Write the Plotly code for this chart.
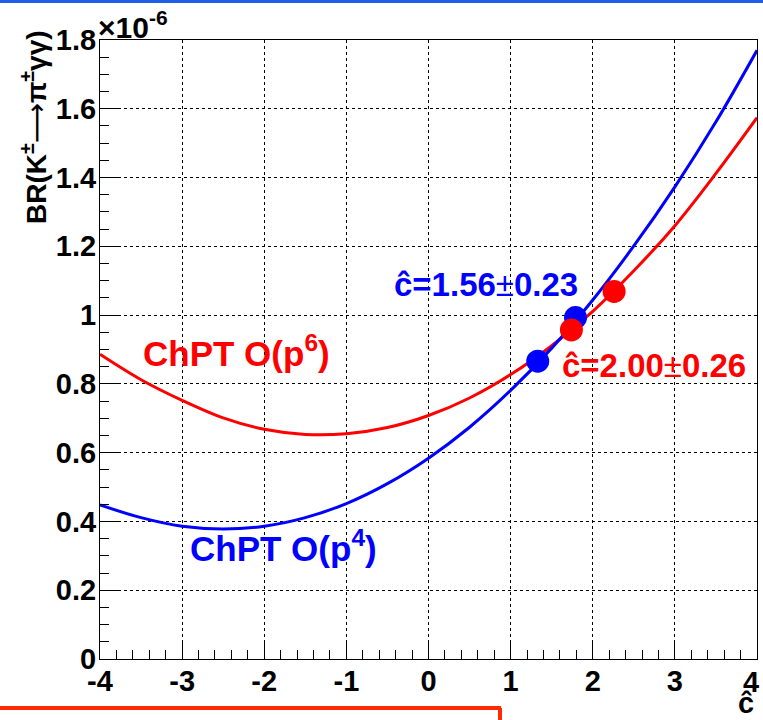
import plotly.graph_objects as go

# ---- data (BR in units of 1e-6) ----
c_hat = [-4.0, -3.5, -3.0, -2.5, -2.0, -1.5, -1.0, -0.5, 0.0, 0.5, 1.0, 1.5, 2.0, 2.5, 3.0, 3.5, 4.0]
br_p4 = [0.448, 0.411, 0.386, 0.378, 0.386, 0.411, 0.452, 0.510, 0.584, 0.674, 0.781, 0.904, 1.044, 1.201, 1.373, 1.562, 1.770]
br_p6 = [0.886, 0.812, 0.752, 0.701, 0.668, 0.653, 0.655, 0.673, 0.708, 0.759, 0.827, 0.911, 1.011, 1.129, 1.260, 1.412, 1.574]

p4_marker_c = [1.33, 1.79]
p4_marker_br = [0.866, 0.993]
p6_marker_c = [1.74, 2.26]
p6_marker_br = [0.957, 1.069]

x_ticks = [-4, -3, -2, -1, 0, 1, 2, 3, 4]
x_ticktext = ["-4", "-3", "-2", "-1", "0", "1", "2", "3", "4"]
y_ticks = [0, 0.2, 0.4, 0.6, 0.8, 1.0, 1.2, 1.4, 1.6, 1.8]
y_ticktext = ["0", "0.2", "0.4", "0.6", "0.8", "1", "1.2", "1.4", "1.6", "1.8"]

BLUE = "#0000ff"
RED = "#ff0000"
FONT = "Liberation Sans, Arial, Helvetica, sans-serif"

fig = go.Figure()
fig.add_trace(go.Scatter(x=c_hat, y=br_p6, mode="lines", line=dict(color=RED, width=3, shape="spline"),
                         showlegend=False, hoverinfo="skip"))
fig.add_trace(go.Scatter(x=c_hat, y=br_p4, mode="lines", line=dict(color=BLUE, width=3, shape="spline"),
                         showlegend=False, hoverinfo="skip"))
fig.add_trace(go.Scatter(x=p4_marker_c, y=p4_marker_br, mode="markers",
                         marker=dict(color=BLUE, size=23, line=dict(width=0)), showlegend=False))
fig.add_trace(go.Scatter(x=p6_marker_c, y=p6_marker_br, mode="markers",
                         marker=dict(color=RED, size=23, line=dict(width=0)), showlegend=False))

TICKFONT = dict(family=FONT, size=29, color="black", weight="bold")
axis_common = dict(showline=True, linecolor="black", linewidth=1, mirror=True,
                   ticks="inside", tickcolor="black", tickwidth=1, ticklen=18,
                   showgrid=True, gridcolor="black", gridwidth=1, griddash="dot",
                   zeroline=False, automargin=False, tickfont=TICKFONT)

# last x label is drawn as an annotation (pulled slightly left, as in the reference)
fig.update_xaxes(range=[-4, 4], tickvals=x_ticks, ticktext=x_ticktext[:-1] + [""],
                 ticklabelstandoff=-4,
                 minor=dict(dtick=0.2, ticklen=9, tickcolor="black", ticks="inside", showgrid=False),
                 **axis_common)
fig.update_yaxes(range=[0, 1.8], tickvals=y_ticks, ticktext=y_ticktext,
                 ticklabelstandoff=-3,
                 minor=dict(dtick=0.05, ticklen=9, tickcolor="black", ticks="inside", showgrid=False),
                 **axis_common)

L, R, T, B = 100, 6, 40, 61
W, H = 763, 720
pw, ph = W - L - R, H - T - B

def px(xp):
    return (xp - L) / pw

def py(yp):
    return (H - B - yp) / ph

ytitle = ('<b>BR(K<sup>±</sup></b>'
          '<span style="font-family:DejaVu Sans">⟶</span>'
          '<b>π<sup>±</sup>γγ)</b>')

annotations = [
    dict(text=ytitle, textangle=-90,
         x=px(35), y=py(28), xref="paper", yref="paper", xanchor="center", yanchor="top",
         showarrow=False, font=dict(family=FONT, size=28, color="black")),
    dict(text="<b>×10<sup>-6</sup></b>", x=px(96), y=py(46), xref="paper", yref="paper",
         xanchor="left", yanchor="bottom", showarrow=False,
         font=dict(family=FONT, size=30, color="black")),
    dict(text=x_ticktext[-1], x=px(751), y=py(682), xref="paper", yref="paper",
         xanchor="center", yanchor="middle", showarrow=False, font=TICKFONT),
    dict(text="<b>ĉ</b>", x=px(746), y=py(703), xref="paper", yref="paper",
         xanchor="center", yanchor="middle", showarrow=False,
         font=dict(family=FONT, size=29, color="black")),
    dict(text="<b>ChPT O(p<sup>6</sup>)</b>", x=-3.50, y=0.895, xref="x", yref="y",
         xanchor="left", yanchor="middle", showarrow=False,
         font=dict(family=FONT, size=35, color=RED)),
    dict(text="<b>ChPT O(p<sup>4</sup>)</b>", x=-2.93, y=0.330, xref="x", yref="y",
         xanchor="left", yanchor="middle", showarrow=False,
         font=dict(family=FONT, size=35, color=BLUE)),
    dict(text="<b>ĉ=1.56</b>±<b>0.23</b>", x=-0.444, y=1.090, xref="x", yref="y",
         xanchor="left", yanchor="middle", showarrow=False,
         font=dict(family=FONT, size=33, color=BLUE)),
    dict(text="<b>ĉ=2.00</b>±<b>0.26</b>", x=1.60, y=0.853, xref="x", yref="y",
         xanchor="left", yanchor="middle", showarrow=False,
         font=dict(family=FONT, size=33, color=RED)),
]

shapes = [
    # blue band at top edge of the picture
    dict(type="rect", xref="paper", yref="paper", x0=px(0), x1=px(W), y0=py(3), y1=py(0),
         fillcolor="#1f5fe8", line=dict(width=0), layer="above"),
    # red frame fragment at the bottom
    dict(type="line", xref="paper", yref="paper", x0=px(0), x1=px(501), y0=py(708), y1=py(708),
         line=dict(color="#ff2a00", width=4)),
    dict(type="line", xref="paper", yref="paper", x0=px(500), x1=px(500), y0=py(708), y1=py(722),
         line=dict(color="#ff2a00", width=4)),
]

fig.update_layout(width=W, height=H, autosize=False,
                  margin=dict(l=L, r=R, t=T, b=B, pad=0, autoexpand=False),
                  plot_bgcolor="white", paper_bgcolor="white",
                  annotations=annotations, shapes=shapes, showlegend=False)

fig.write_html("out.html")
